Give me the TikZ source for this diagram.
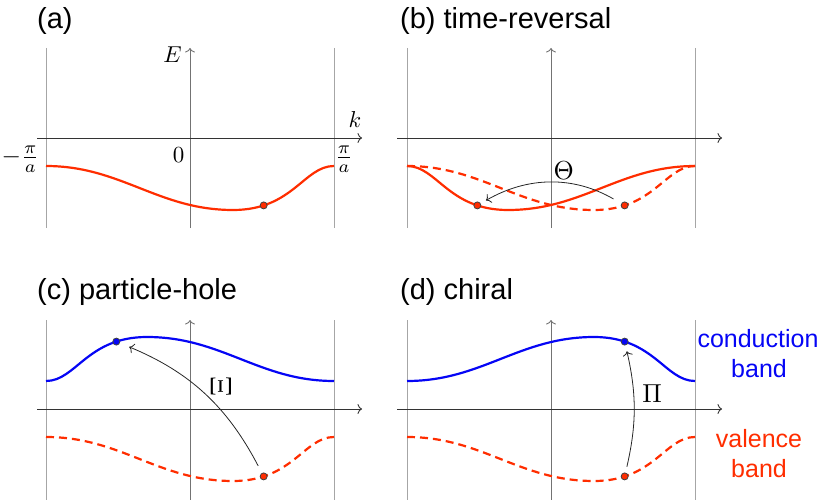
\documentclass[tikz,border=0pt]{standalone}
\usepackage{fontspec}
\setmainfont{Liberation Sans}
\usetikzlibrary{arrows.meta}
\definecolor{bandred}{RGB}{255,45,0}
\definecolor{bandblue}{RGB}{5,5,245}
\begin{document}
\begin{tikzpicture}[x=1pt,y=-1pt,
  tip/.tip={To[length=4.5pt,width=10pt]},
  bound/.style={draw=black!35, line width=0.9pt},
  vaxis/.style={draw=black!55, line width=0.9pt, -tip},
  haxis/.style={draw=black!80, line width=0.9pt, -tip},
  band/.style={line width=2.2pt},
  dashedband/.style={band, dash pattern=on 8pt off 5pt},
  bandshape/.style={insert path={(-144,28) .. controls (-69,28) and (-32,72) .. (43,72) .. controls (103,72) and (114,28) .. (144,28)}},
  dot/.style={circle, inner sep=0pt, minimum size=7pt, draw=black!75, line width=0.8pt},
  sym/.style={draw=black!85, line width=0.8pt, -tip},
  title/.style={anchor=base west, inner sep=0pt, font=\fontsize{29}{34}\selectfont},
  mlab/.style={inner sep=0pt, scale=2.3, transform shape},
  flab/.style={inner sep=0pt, scale=2.5, transform shape},
  glab/.style={inner sep=0pt, scale=2.6, transform shape},
  side/.style={anchor=base, inner sep=0pt, font=\fontsize{25}{30}\selectfont},
]
\useasboundingbox (0,0) rectangle (822,500);

% titles
\node[title] (ta) at (37,29) {(a)};
\node[title] (tb) at (400,29) {(b) time-reversal};
\node[title] (tc) at (37,299) {(c) particle-hole};
\node[title] (td) at (400,299) {(d) chiral};

% ---------- panel (a)
\draw[bound] (46,48) -- (46,228);
\draw[bound] (334,48) -- (334,228);
\draw[vaxis] (190,228) -- (190,48);
\draw[haxis] (37,138) -- (362,138);
\node[mlab] (lE) at (172.5,55) {$E$};
\node[mlab] (lk) at (355,120) {$k$};
\node[mlab] (l0) at (178.5,155) {$0$};
\node[flab, anchor=east] (lmpi) at (40,159) {$-\frac{\pi}{a}$};
\node[flab] (lpi) at (344,159) {$\frac{\pi}{a}$};
\begin{scope}[shift={(190,138)}]
  \draw[band, bandred, bandshape];
  \node[dot, fill=bandred] (da) at (73.65,67.4) {};
\end{scope}

% ---------- panel (b)
\draw[bound] (407,48) -- (407,228);
\draw[bound] (695,48) -- (695,228);
\draw[vaxis] (551,228) -- (551,48);
\draw[haxis] (397,138) -- (722,138);
\begin{scope}[shift={(551,138)}]
  \draw[dashedband, bandred, bandshape];
  \node[dot, fill=bandred] (db2) at (73.65,67.4) {};
  \begin{scope}[xscale=-1]
    \draw[band, bandred, bandshape];
    \node[dot, fill=bandred] (db1) at (73.65,67.4) {};
  \end{scope}
\end{scope}
\draw[sym, shorten <=9pt, shorten >=6pt] (db2) to[bend right=30] (db1);
\node[glab] (lTheta) at (563.7,171) {$\Theta$};

% ---------- panel (c)
\draw[bound] (46,320) -- (46,500);
\draw[bound] (334,320) -- (334,500);
\draw[vaxis] (190,500) -- (190,320);
\draw[haxis] (37,409) -- (362,409);
\begin{scope}[shift={(190,409)}]
  \draw[dashedband, bandred, bandshape];
  \node[dot, fill=bandred] (dc1) at (73.65,67.4) {};
  \begin{scope}[xscale=-1, yscale=-1]
    \draw[band, bandblue, bandshape];
    \node[dot, fill=bandblue] (dc2) at (73.65,67.4) {};
  \end{scope}
\end{scope}
\draw[sym, shorten <=8pt, shorten >=10pt] (dc1) to[bend right=20] (dc2);
\node[glab, scale=1.15, rotate=90] (lXi) at (221,387) {$\Xi$};

% ---------- panel (d)
\draw[bound] (407,320) -- (407,500);
\draw[bound] (695,320) -- (695,500);
\draw[vaxis] (551,500) -- (551,320);
\draw[haxis] (397,409) -- (722,409);
\begin{scope}[shift={(551,409)}]
  \draw[dashedband, bandred, bandshape];
  \node[dot, fill=bandred] (dd1) at (73.65,67.4) {};
  \begin{scope}[yscale=-1]
    \draw[band, bandblue, bandshape];
    \node[dot, fill=bandblue] (dd2) at (73.65,67.4) {};
  \end{scope}
\end{scope}
\draw[sym, shorten <=6pt, shorten >=6pt] (dd1) to[bend right=13] (dd2);
\node[glab] (lPi) at (652,394) {$\Pi$};

% side labels
\node[side, text=bandblue] (cond) at (758,347) {conduction};
\node[side, text=bandblue] (condb) at (759,377) {band};
\node[side, text=bandred] (val) at (759,447) {valence};
\node[side, text=bandred] (valb) at (759,477) {band};
\end{tikzpicture}
\end{document}
